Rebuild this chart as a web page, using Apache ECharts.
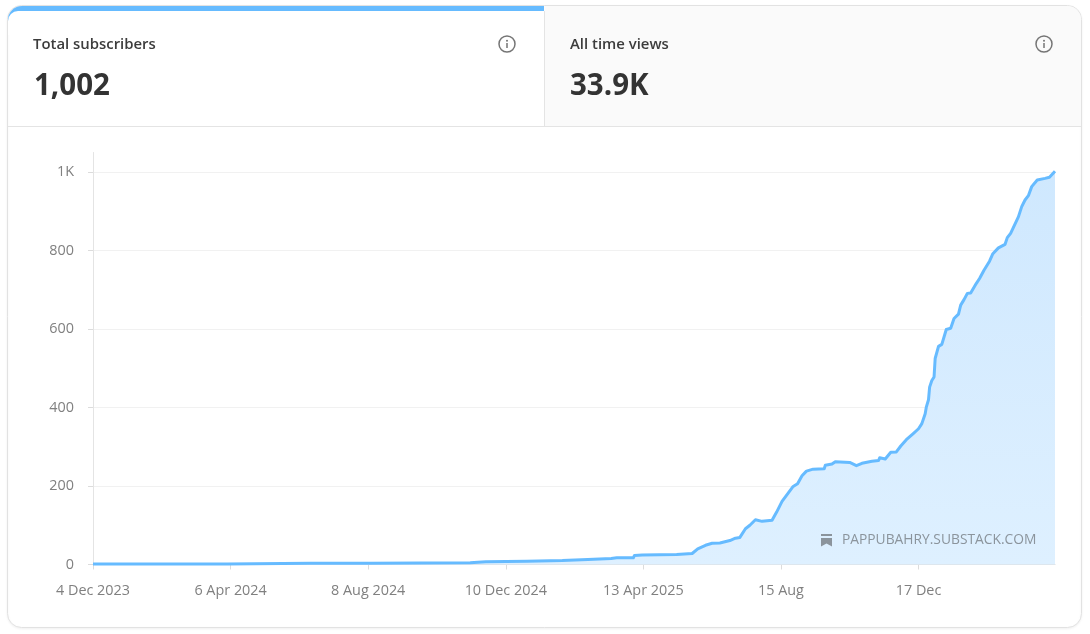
<!DOCTYPE html>
<html>
<head>
<meta charset="utf-8">
<style>html,body{margin:0;padding:0;background:#fff}#c{width:1090px;height:634px}</style>
<script src="https://cdn.jsdelivr.net/npm/echarts@6/dist/echarts.min.js"></script>
</head>
<body>
<div id="c"></div>
<script>
const tickDays = [0, 124, 248, 372, 496, 620, 744];
const tickLabels = ['4 Dec 2023', '6 Apr 2024', '8 Aug 2024', '10 Dec 2024', '13 Apr 2025', '15 Aug', '17 Dec'];
const yTicks = [0, 200, 400, 600, 800, 1000];
const days = [0,121,122,196,197,251,252,340,341,354,355,391,392,423,424,446,447,467,468,472,487,488,495,526,540,545,552,558,565,574,579,583,588,592,597,603,612,616,621,627,631,635,639,643,649,659,660,666,669,682,688,693,702,708,709,714,719,724,728,733,739,744,747,750,751,753,754,756,758,759,762,765,769,773,776,780,782,785,788,791,796,799,803,808,811,816,817,822,824,827,834,837,840,843,846,851,858,862,863,867];
const subscribers = [1,1,3,3,3.5,3.5,4.5,4.5,7,7,8.5,8.5,10,10,13,13,15.5,15.5,19.5,17,17,23,24.5,25.5,28,40,49,54,55,61,67,69,91,100,114,110,113,133,161,184,199,206,226,238,243,244,253,256,262,260,252,258,263,265,272,269,286,287,302,318,333,346,359,384,401,420,452,469,478,525,556,561,599,602,627,638,661,675,691,692,716,729,750,773,792,807,802,816,833,844,886,912,929,940,963,980,984,987,983,1002];
const headerTitles = ['Total subscribers', 'All time views'];
const headerValues = ['1,002', '33.9K'];
const watermark = 'PAPPUBAHRY.SUBSTACK.COM';

const FONT = '"Open Sans", "Noto Sans", sans-serif';
const chart = echarts.init(document.getElementById('c'), null, {renderer: 'canvas'});

function infoIcon(cx, cy) {
  return [
    {type: 'circle', silent: true, z: 3, shape: {cx, cy, r: 8}, style: {fill: 'transparent', stroke: '#757575', lineWidth: 1.5}},
    {type: 'rect', silent: true, z: 3, shape: {x: cx - 0.75, y: cy - 1, width: 1.5, height: 5}, style: {fill: '#757575'}},
    {type: 'circle', silent: true, z: 3, shape: {cx, cy: cy - 3.2, r: 1}, style: {fill: '#757575'}}
  ];
}
const headerFont = '600 14.9px ' + FONT;
const bigFont = '700 29.5px ' + FONT;

chart.setOption({
  animation: false,
  backgroundColor: 'transparent',
  grid: {left: 93, top: 152.5, width: 962, height: 412},
  xAxis: {
    type: 'value', min: 0, max: 867,
    interval: 124,
    axisLine: {show: true, onZero: false, lineStyle: {color: '#dcdcdc', width: 1}},
    axisTick: {show: true, length: 5, customValues: tickDays, lineStyle: {color: '#dcdcdc'}},
    axisLabel: {
      show: true, customValues: tickDays, margin: 19, color: '#808080', fontSize: 14.4, fontFamily: FONT,
      formatter: v => tickLabels[tickDays.indexOf(v)] || ''
    },
    splitLine: {show: false}
  },
  yAxis: {
    type: 'value', min: 0, max: 1050, interval: 200,
    axisLine: {show: true, lineStyle: {color: '#e4e4e4', width: 1}},
    axisTick: {show: true, length: 5, customValues: yTicks, lineStyle: {color: '#dcdcdc'}},
    axisLabel: {
      show: true, customValues: yTicks, margin: 19, color: '#808080', fontSize: 14.4, fontFamily: FONT,
      formatter: v => v >= 1000 ? (v / 1000) + 'K' : String(v)
    },
    splitLine: {show: true, showMaxLine: true, lineStyle: {color: '#f1f1f1', width: 1}}
  },
  series: [{
    type: 'line',
    data: days.map((d, i) => [d, subscribers[i]]),
    showSymbol: false, symbol: 'none', smooth: false, clip: true,
    lineStyle: {color: '#66BBFF', width: 3, join: 'round'},
    areaStyle: {
      opacity: 1,
      color: {type: 'linear', x: 0, y: 0, x2: 0, y2: 1, colorStops: [
        {offset: 0, color: '#cfe8fe'}, {offset: 1, color: '#deF0ff'}
      ]}
    },
    z: 2
  }],
  graphic: {elements: [
    {type: 'rect', silent: true, z: -10, shape: {x: 7.5, y: 5.5, width: 1074, height: 622, r: 14},
      style: {fill: '#fff', stroke: '#e2e2e2', lineWidth: 1, shadowBlur: 3, shadowColor: 'rgba(0,0,0,0.06)', shadowOffsetY: 1}},
    {type: 'rect', silent: true, z: -9, shape: {x: 544.5, y: 6, width: 536.5, height: 120, r: [0, 14, 0, 0]}, style: {fill: '#fafafa'}},
    {type: 'rect', silent: true, z: -8, shape: {x: 8, y: 6, width: 536, height: 24, r: [14, 0, 0, 0]}, style: {fill: '#66BBFF'}},
    {type: 'rect', silent: true, z: -7, shape: {x: 8, y: 11, width: 536, height: 24, r: [10, 0, 0, 0]}, style: {fill: '#ffffff'}},
    {type: 'rect', silent: true, z: -6, shape: {x: 8, y: 126, width: 1073, height: 1}, style: {fill: '#e4e4e4'}},
    {type: 'rect', silent: true, z: -6, shape: {x: 544, y: 11, width: 1, height: 115}, style: {fill: '#e4e4e4'}},
    {type: 'text', silent: true, z: 3, style: {x: 33, y: 45, text: headerTitles[0], font: headerFont, fill: '#3c3c3c', verticalAlign: 'middle'}},
    {type: 'text', silent: true, z: 3, style: {x: 570, y: 45, text: headerTitles[1], font: headerFont, fill: '#3c3c3c', verticalAlign: 'middle'}},
    {type: 'text', silent: true, z: 3, style: {x: 34, y: 87, text: headerValues[0], font: bigFont, fill: '#333333', verticalAlign: 'middle'}},
    {type: 'text', silent: true, z: 3, style: {x: 570, y: 87, text: headerValues[1], font: bigFont, fill: '#333333', verticalAlign: 'middle'}},
    ...infoIcon(507, 44),
    ...infoIcon(1044, 44),
    {type: 'rect', silent: true, z: 5, shape: {x: 821, y: 534, width: 11, height: 2}, style: {fill: '#8b949c'}},
    {type: 'polygon', silent: true, z: 5, shape: {points: [[821, 538], [832, 538], [832, 546.5], [826.5, 543.5], [821, 546.5]]}, style: {fill: '#8b949c'}},
    {type: 'text', silent: true, z: 5, style: {x: 842, y: 540, text: watermark, font: '13.8px ' + FONT, fill: '#8b949c', verticalAlign: 'middle'}}
  ]}
});
</script>
</body>
</html>
